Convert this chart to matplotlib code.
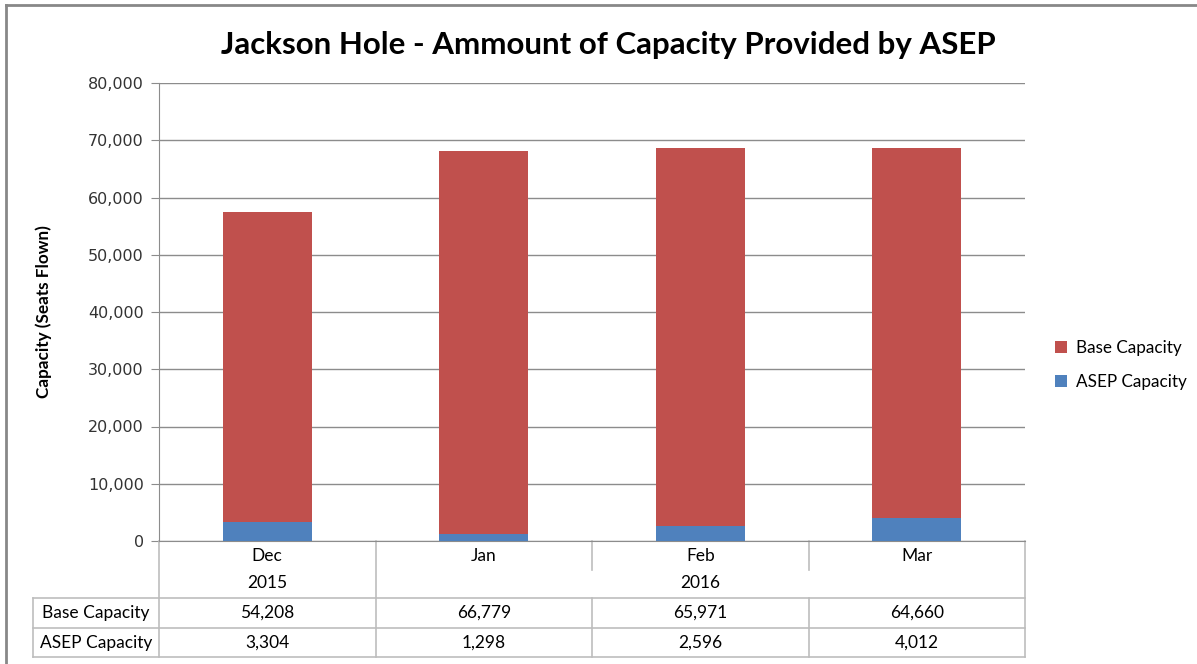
import numpy as np
import matplotlib.pyplot as plt
from matplotlib.lines import Line2D

# データ
months = ["Dec", "Jan", "Feb", "Mar"]
years = ["2015", "2016"]
year_span = [(0, 0), (1, 3)]  # 年ごとの月インデックス範囲
base_capacity = [54208, 66779, 65971, 64660]
asep_capacity = [3304, 1298, 2596, 4012]
row_labels = ["Base Capacity", "ASEP Capacity"]

base_color = "#C0504D"
asep_color = "#4F81BD"
grid_color = "#8C8C8C"
table_color = "#BDBDBD"

plt.rcParams["font.family"] = ["Lato", "DejaVu Sans"]

fig = plt.figure(figsize=(11.97, 6.64), dpi=100)
ax = fig.add_axes([159 / 1197, 1 - 541 / 664, 866 / 1197, 458 / 664])

x = np.arange(len(months))
ax.bar(x, asep_capacity, width=0.41, color=asep_color, label="ASEP Capacity", zorder=3)
ax.bar(x, base_capacity, width=0.41, bottom=asep_capacity, color=base_color,
       label="Base Capacity", zorder=3)

ax.set_xlim(-0.5, len(months) - 0.5)
ax.set_ylim(0, 80000)
ax.set_yticks(np.arange(0, 80001, 10000))
ax.set_yticklabels([f"{v:,}" for v in range(0, 80001, 10000)],
                   family="DejaVu Sans", fontsize=11.5, color="#333333")
ax.yaxis.grid(True, color=grid_color, linewidth=1, zorder=0)
ax.tick_params(axis="y", length=6, color=grid_color, pad=5)
ax.set_xticks([])
for side in ["top", "right"]:
    ax.spines[side].set_visible(False)
ax.spines["left"].set_color(grid_color)
ax.spines["bottom"].set_color(grid_color)

ax.set_ylabel("Capacity (Seats Flown)", fontsize=12.3, fontweight="bold")
ax.yaxis.set_label_coords(-0.123, 0.5)

fig.text(0.508, 0.932, "Jackson Hole - Ammount of Capacity Provided by ASEP",
         ha="center", va="center", fontsize=22.5, fontweight="bold")

# 凡例
handles, labels = ax.get_legend_handles_labels()
fig.legend(handles[::-1], labels[::-1], loc="center left",
           bbox_to_anchor=(1040 / 1197, 1 - 365 / 664), frameon=False,
           fontsize=12.3, handlelength=0.7, handleheight=0.7, labelspacing=1.0,
           handletextpad=0.5)

# データテーブル (軸の下)
tr = ax.get_xaxis_transform()
left_edge = -0.5 - 126 / 216.5
y_cat, y_year = -0.0328, -0.0917
y_mid, y_r1, y_r2 = -0.0633, -0.1245, -0.190
y_bot = -0.2533
text_kw = dict(transform=tr, ha="center", va="center", fontsize=12.5, clip_on=False)

for i, m in enumerate(months):
    ax.text(i, y_cat, m, **text_kw)
for yr, (a, b) in zip(years, year_span):
    ax.text((a + b) / 2, y_year, yr, **text_kw)
for i in range(len(months)):
    ax.text(i, (y_r1 + y_r2) / 2, f"{base_capacity[i]:,}", **text_kw)
    ax.text(i, (y_r2 + y_bot) / 2, f"{asep_capacity[i]:,}", **text_kw)
for lab, yy in zip(row_labels, [(y_r1 + y_r2) / 2, (y_r2 + y_bot) / 2]):
    ax.text((left_edge - 0.5) / 2, yy, lab, **text_kw)

line_kw = dict(transform=tr, color=table_color, linewidth=1.2, clip_on=False)
for yy in [y_r1, y_r2, y_bot]:
    ax.add_line(Line2D([left_edge, len(months) - 0.5], [yy, yy], **line_kw))
ax.add_line(Line2D([left_edge, left_edge], [y_r1, y_bot], **line_kw))
ax.add_line(Line2D([-0.5, -0.5], [0, y_bot], **line_kw))
ax.add_line(Line2D([len(months) - 0.5] * 2, [0, y_bot], **line_kw))
for i in range(1, len(months)):
    xb = i - 0.5
    if any(a == i for a, b in year_span):
        ax.add_line(Line2D([xb, xb], [0, y_bot], **line_kw))
    else:
        ax.add_line(Line2D([xb, xb], [0, y_mid], **line_kw))
        ax.add_line(Line2D([xb, xb], [y_r1, y_bot], **line_kw))

# 外枠
fig.add_artist(Line2D([6 / 1197, 1], [1 - 5 / 664] * 2, transform=fig.transFigure,
                      color="#888888", linewidth=2))
fig.add_artist(Line2D([6 / 1197] * 2, [0, 1 - 5 / 664], transform=fig.transFigure,
                      color="#888888", linewidth=2))

fig.savefig("out.png", dpi=100)
